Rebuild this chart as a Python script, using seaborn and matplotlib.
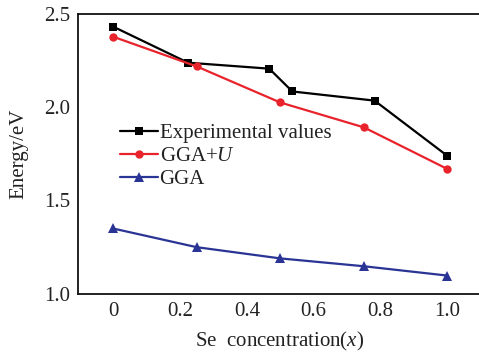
import matplotlib
matplotlib.use("Agg")
import matplotlib.pyplot as plt
import seaborn as sns
import pandas as pd

# Data
exp_x = [0.0, 0.224, 0.467, 0.536, 0.782, 1.0]
exp_y = [2.43, 2.237, 2.205, 2.083, 2.034, 1.738]
ggau_x = [0.0, 0.25, 0.5, 0.75, 1.0]
ggau_y = [2.376, 2.217, 2.024, 1.891, 1.668]
gga_x = [0.0, 0.25, 0.5, 0.75, 1.0]
gga_y = [1.35, 1.25, 1.19, 1.148, 1.098]
xticks = [0, 0.2, 0.4, 0.6, 0.8, 1.0]
xtick_labels = ["0", "0.2", "0.4", "0.6", "0.8", "1.0"]
yticks = [1.0, 1.5, 2.0, 2.5]
ytick_labels = ["1.0", "1.5", "2.0", "2.5"]

sns.set_style("white")
plt.rcParams['font.family'] = ['Liberation Serif', 'DejaVu Serif']
plt.rcParams['mathtext.fontset'] = 'custom'
plt.rcParams['mathtext.rm'] = 'Liberation Serif'
plt.rcParams['mathtext.it'] = 'Liberation Serif:italic'

fig = plt.figure(figsize=(4.79, 3.52), dpi=100)
ax = fig.add_axes([0.1635, 0.165, 0.8405, 0.7966])

black = "#000000"
red = "#e8232b"
blue = "#2a3494"

sns.lineplot(x=exp_x, y=exp_y, ax=ax, color=black, marker="s", markersize=6,
             markeredgewidth=0, linewidth=1.6, label="Experimental values")
sns.lineplot(x=ggau_x, y=ggau_y, ax=ax, color=red, marker="o", markersize=6,
             markeredgewidth=0, linewidth=1.6, label="GGA+$U$")
sns.lineplot(x=gga_x, y=gga_y, ax=ax, color=blue, marker="^", markersize=7,
             markeredgewidth=0, linewidth=1.6, label="GGA")

ax.set_xlim(-0.104, 1.1)
ax.set_ylim(1.0, 2.5)
ax.set_xticks(xticks)
ax.set_xticklabels(xtick_labels)
ax.set_yticks(yticks)
ax.set_yticklabels(ytick_labels)
ax.tick_params(axis='x', direction='in', length=6, width=1, color='#999999',
               labelsize=15, pad=6, labelcolor='#222222')
ax.tick_params(axis='y', direction='in', length=6, width=1, color='#222222',
               labelsize=15, pad=6, labelcolor='#222222')
for s in ['left', 'bottom', 'top']:
    ax.spines[s].set_visible(True)
    ax.spines[s].set_color('#111111')
    ax.spines[s].set_linewidth(1.3)
ax.spines['right'].set_visible(False)

ax.set_xlabel("Se  concentration$($$x$$)$", fontsize=15, color='#222222', labelpad=6)
ax.set_ylabel("Energy/eV", fontsize=15, color='#222222', labelpad=11)

leg = ax.legend(loc='upper left', bbox_to_anchor=(110 / 479, 1 - 113 / 352),
                bbox_transform=fig.transFigure, frameon=False, fontsize=15,
                handlelength=1.8, handletextpad=0.08, labelspacing=0.17,
                borderpad=0)
for t in leg.get_texts():
    t.set_color('#222222')

fig.savefig("out.png", dpi=100)
